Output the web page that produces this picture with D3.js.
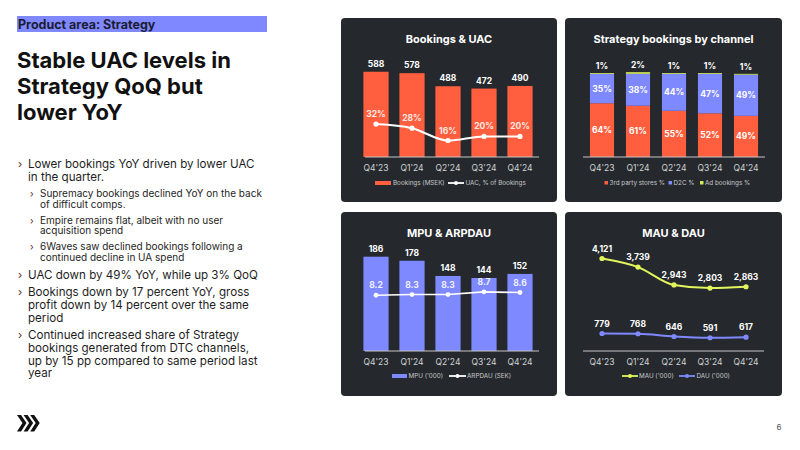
<!DOCTYPE html>
<html>
<head>
<meta charset="utf-8">
<script src="https://cdn.jsdelivr.net/npm/d3@7"></script>
<style>
body { margin: 0; background: #fff; }
svg { display: block; font-family: Inter, "Noto Sans", sans-serif; }
</style>
</head>
<body>
<div id="chart"></div>
<script>
// quarters + series
const quarters = ["Q4'23", "Q1'24", "Q2'24", "Q3'24", "Q4'24"];
const bookings = [588, 578, 488, 472, 490];          // MSEK
const uacShare = [32, 28, 16, 20, 20];               // UAC, % of bookings
const thirdParty = [64, 61, 55, 52, 49];             // 3rd party stores %
const d2c = [35, 38, 44, 47, 49];                    // D2C %
const adBookings = [1, 2, 1, 1, 1];                  // Ad bookings %
const mpu = [186, 178, 148, 144, 152];               // '000
const arpdau = [8.2, 8.3, 8.3, 8.7, 8.6];            // SEK
const mau = [4121, 3739, 2943, 2803, 2863];          // '000
const dau = [779, 768, 646, 591, 617];               // '000

const bullets = [
  {lvl: 0, lines: ["Lower bookings YoY driven by lower UAC", "in the quarter."]},
  {lvl: 1, lines: ["Supremacy bookings declined YoY on the back", "of difficult comps."]},
  {lvl: 1, lines: ["Empire remains flat, albeit with no user", "acquisition spend"]},
  {lvl: 1, lines: ["6Waves saw declined bookings following a", "continued decline in UA spend"]},
  {lvl: 0, lines: ["UAC down by 49% YoY, while up 3% QoQ"]},
  {lvl: 0, lines: ["Bookings down by 17 percent YoY, gross", "profit down by 14 percent over the same", "period"]},
  {lvl: 0, lines: ["Continued increased share of Strategy", "bookings generated from DTC channels,", "up by 15 pp compared to same period last", "year"]}
];

const ORANGE = "#ff5f3f", BLUE = "#7f89ff", LIME = "#e3f55c", PANEL = "#25292e";

const svg = d3.select("#chart").append("svg")
  .attr("width", 800)
  .attr("height", 450);

// ---- left column ----
svg.append("rect").attr("x", 17).attr("y", 16).attr("width", 250).attr("height", 16).attr("fill", "#8088ff");
svg.append("text").attr("x", 18).attr("y", 28.5)
  .style("font-size", "12.5px").style("font-weight", 700).attr("fill", "#1a1d33")
  .text("Product area: Strategy");

["Stable UAC levels in", "Strategy QoQ but", "lower YoY"].forEach(function(t, i) {
  svg.append("text").attr("x", 17).attr("y", 68 + i * 26)
    .style("font-size", "22px").style("font-weight", 700).attr("fill", "#111")
    .text(t);
});

// baselines: main lines 12.7 apart, sub lines 10.7; gap before a main bullet 17.6, before a sub 16
let by = 168.3, prev = null;
bullets.forEach(function(b) {
  const main = b.lvl === 0;
  const lh = main ? 12.7 : 10.7;
  if (prev !== null) by = prev + (main ? 17.6 : 16);
  svg.append("text").attr("x", main ? 18 : 30).attr("y", by)
    .style("font-size", main ? "11px" : "9.5px").attr("fill", "#5b1f2c").text("›");
  b.lines.forEach(function(l, j) {
    svg.append("text").attr("x", main ? 28 : 40).attr("y", by + j * lh)
      .style("font-size", main ? "11.6px" : "10px").attr("fill", "#1e1e1e")
      .text(l);
  });
  prev = by + (b.lines.length - 1) * lh;
});

// logo + page no.
const logo = svg.append("g").attr("fill", "#111");
[0, 1, 2].forEach(function(i) {
  const x = 17 + i * 6.6;
  logo.append("path").attr("d",
    "M" + x + ",415 h4 l5.5,8 l-5.5,8.5 h-4 l5.5,-8.5 z");
});
svg.append("text").attr("x", 779).attr("y", 430).attr("text-anchor", "middle")
  .style("font-size", "8px").attr("fill", "#555").text("6");

// ---- panels ----
function panel(x, y, w, h, title) {
  const g = svg.append("g");
  g.append("rect").attr("x", x).attr("y", y).attr("width", w).attr("height", h)
    .attr("rx", 4).attr("fill", PANEL);
  g.append("text").attr("x", x + w / 2).attr("y", y + 25).attr("text-anchor", "middle")
    .style("font-size", "11px").style("font-weight", 700).attr("fill", "#fff").text(title);
  return g;
}

function xAxis(g, x, y0, x0off) {
  const a = g.append("g").attr("transform", "translate(0," + y0 + ")")
    .call(d3.axisBottom(x).tickSize(0).tickPadding(8));
  a.select(".domain").attr("stroke", "#c4c4c4")
    .attr("d", "M" + (x.range()[0] + x0off) + ",0H" + (x.range()[1] + 1));
  a.selectAll("text").attr("fill", "#d2d2d2").style("font-size", "8.5px")
    .style("font-family", "Inter, sans-serif");
}

function valueLabel(g, x, y, t, col) {
  g.append("text").attr("x", x).attr("y", y).attr("text-anchor", "middle")
    .style("font-size", "8.5px").style("font-weight", 700).attr("fill", col || "#fff").text(t);
}

function legendText(g, x, y, t) {
  g.append("text").attr("x", x).attr("y", y + 2.3)
    .style("font-size", "6.3px").attr("fill", "#c8c8c8").text(t);
}

function legendLine(g, x1, x2, y, col) {
  g.append("line").attr("x1", x1).attr("x2", x2).attr("y1", y).attr("y2", y)
    .attr("stroke", col).attr("stroke-width", 1.8);
  g.append("circle").attr("cx", (x1 + x2) / 2).attr("cy", y).attr("r", 2).attr("fill", col);
}

// 1. Bookings & UAC
const p1 = panel(341, 18, 216, 184, "Bookings & UAC");
const x1 = d3.scaleBand().domain(quarters).range([358, 538]).paddingInner(0.3).paddingOuter(0.15);
const y1 = d3.scaleLinear().domain([0, 600]).range([157, 70]);
const yU = d3.scaleLinear().domain([0, 100]).range([157, 54]);

p1.selectAll("rect.bar").data(bookings).enter().append("rect")
  .attr("class", "bar")
  .attr("x", (d, i) => x1(quarters[i]))
  .attr("y", d => y1(d))
  .attr("width", x1.bandwidth())
  .attr("height", d => y1(0) - y1(d))
  .attr("fill", ORANGE);
bookings.forEach((d, i) => valueLabel(p1, x1(quarters[i]) + x1.bandwidth() / 2, y1(d) - 5, d));

const cx1 = i => x1(quarters[i]) + x1.bandwidth() / 2;
p1.append("path").datum(uacShare)
  .attr("d", d3.line().x((d, i) => cx1(i)).y(d => yU(d)).curve(d3.curveMonotoneX))
  .attr("fill", "none").attr("stroke", "#fff").attr("stroke-width", 2);
p1.selectAll("circle.pt").data(uacShare).enter().append("circle")
  .attr("cx", (d, i) => cx1(i)).attr("cy", d => yU(d)).attr("r", 2.6).attr("fill", "#fff");
uacShare.forEach((d, i) => valueLabel(p1, cx1(i), yU(d) - 7, d + "%", "#ffe9e4"));
xAxis(p1, x1, 157, 7);

p1.append("rect").attr("x", 375).attr("y", 181).attr("width", 16).attr("height", 4).attr("fill", ORANGE);
legendText(p1, 393, 183, "Bookings (MSEK)");
legendLine(p1, 448, 464, 183, "#fff");
legendText(p1, 465.5, 183, "UAC, % of Bookings");

// 2. Strategy bookings by channel
const p2 = panel(565, 18, 217, 184, "Strategy bookings by channel");
const x2 = d3.scaleBand().domain(quarters).range([584, 764]).paddingInner(0.33).paddingOuter(0.165);
const y2 = d3.scaleLinear().domain([0, 100]).range([157, 73]);
const rows = quarters.map((q, i) => ({q: q, third: thirdParty[i], d2c: d2c[i], ad: adBookings[i]}));
const keys = ["third", "d2c", "ad"];
const colors = {third: ORANGE, d2c: BLUE, ad: "#d4ec5a"};
const stacked = d3.stack().keys(keys)(rows);

stacked.forEach(function(layer) {
  p2.selectAll("rect." + layer.key).data(layer).enter().append("rect")
    .attr("class", layer.key)
    .attr("x", d => x2(d.data.q))
    .attr("y", d => y2(d[1]))
    .attr("width", x2.bandwidth())
    .attr("height", d => y2(d[0]) - y2(d[1]))
    .attr("fill", colors[layer.key]);
  layer.forEach(function(d) {
    const cx = x2(d.data.q) + x2.bandwidth() / 2;
    const v = d.data[layer.key];
    if (layer.key === "ad") valueLabel(p2, cx, y2(d[1]) - 4, v + "%");
    else valueLabel(p2, cx, (y2(d[0]) + y2(d[1])) / 2 + 3, v + "%");
  });
});
xAxis(p2, x2, 157, -1);

[["third", 604.5, 609.5, "3rd party stores %"], ["d2c", 668.5, 673.5, "D2C %"], ["ad", 700, 705, "Ad bookings %"]]
  .forEach(function(l) {
    p2.append("rect").attr("x", l[1]).attr("y", 181).attr("width", 3.5).attr("height", 3.5).attr("fill", colors[l[0]]);
    legendText(p2, l[2], 183, l[3]);
  });

// 3. MPU & ARPDAU
const p3 = panel(341, 212, 216, 184, "MPU & ARPDAU");
const yM = d3.scaleLinear().domain([0, 200]).range([351, 249.6]);
const yA = d3.scaleLinear().domain([0, 10]).range([351, 283]);
p3.selectAll("rect.bar").data(mpu).enter().append("rect")
  .attr("class", "bar")
  .attr("x", (d, i) => x1(quarters[i]))
  .attr("y", d => yM(d))
  .attr("width", x1.bandwidth())
  .attr("height", d => yM(0) - yM(d))
  .attr("fill", BLUE);
mpu.forEach((d, i) => valueLabel(p3, cx1(i), yM(d) - 5, d));
p3.append("path").datum(arpdau)
  .attr("d", d3.line().x((d, i) => cx1(i)).y(d => yA(d)))
  .attr("fill", "none").attr("stroke", "#fff").attr("stroke-width", 1.6);
p3.selectAll("circle.pt").data(arpdau).enter().append("circle")
  .attr("cx", (d, i) => cx1(i)).attr("cy", d => yA(d)).attr("r", 2.4).attr("fill", "#fff");
arpdau.forEach((d, i) => valueLabel(p3, cx1(i), yA(d) - 7, d3.format(".1f")(d), "#eef0ff"));
xAxis(p3, x1, 351, 7);

p3.append("rect").attr("x", 392).attr("y", 374).attr("width", 15).attr("height", 4).attr("fill", BLUE);
legendText(p3, 408.5, 376, "MPU ('000)");
legendLine(p3, 449, 466, 376, "#fff");
legendText(p3, 467, 376, "ARPDAU (SEK)");

// 4. MAU & DAU
const p4 = panel(565, 212, 217, 184, "MAU & DAU");
const yMau = d3.scaleLinear().domain([0, 4500]).range([351, 250]);
const cx2 = i => x2(quarters[i]) + x2.bandwidth() / 2;
[[mau, LIME], [dau, BLUE]].forEach(function(s) {
  p4.append("path").datum(s[0])
    .attr("d", d3.line().x((d, i) => cx2(i)).y(d => yMau(d)).curve(d3.curveMonotoneX))
    .attr("fill", "none").attr("stroke", s[1]).attr("stroke-width", 2);
  p4.selectAll(null).data(s[0]).enter().append("circle")
    .attr("cx", (d, i) => cx2(i)).attr("cy", d => yMau(d)).attr("r", 2.6).attr("fill", s[1]);
  s[0].forEach((d, i) => valueLabel(p4, cx2(i), yMau(d) - 7, d3.format(",")(d)));
});
const ax4 = p4.append("g").attr("transform", "translate(0,351)")
  .call(d3.axisBottom(x2).tickSize(0).tickPadding(8));
ax4.select(".domain").attr("stroke", "#c4c4c4").attr("d", "M583,0H764");
ax4.selectAll("text").attr("fill", "#d2d2d2").style("font-size", "8.5px").style("font-family", "Inter, sans-serif");

legendLine(p4, 622, 638, 376, LIME);
legendText(p4, 639, 376, "MAU ('000)");
legendLine(p4, 679, 695, 376, BLUE);
legendText(p4, 696.5, 376, "DAU ('000)");
</script>
</body>
</html>
